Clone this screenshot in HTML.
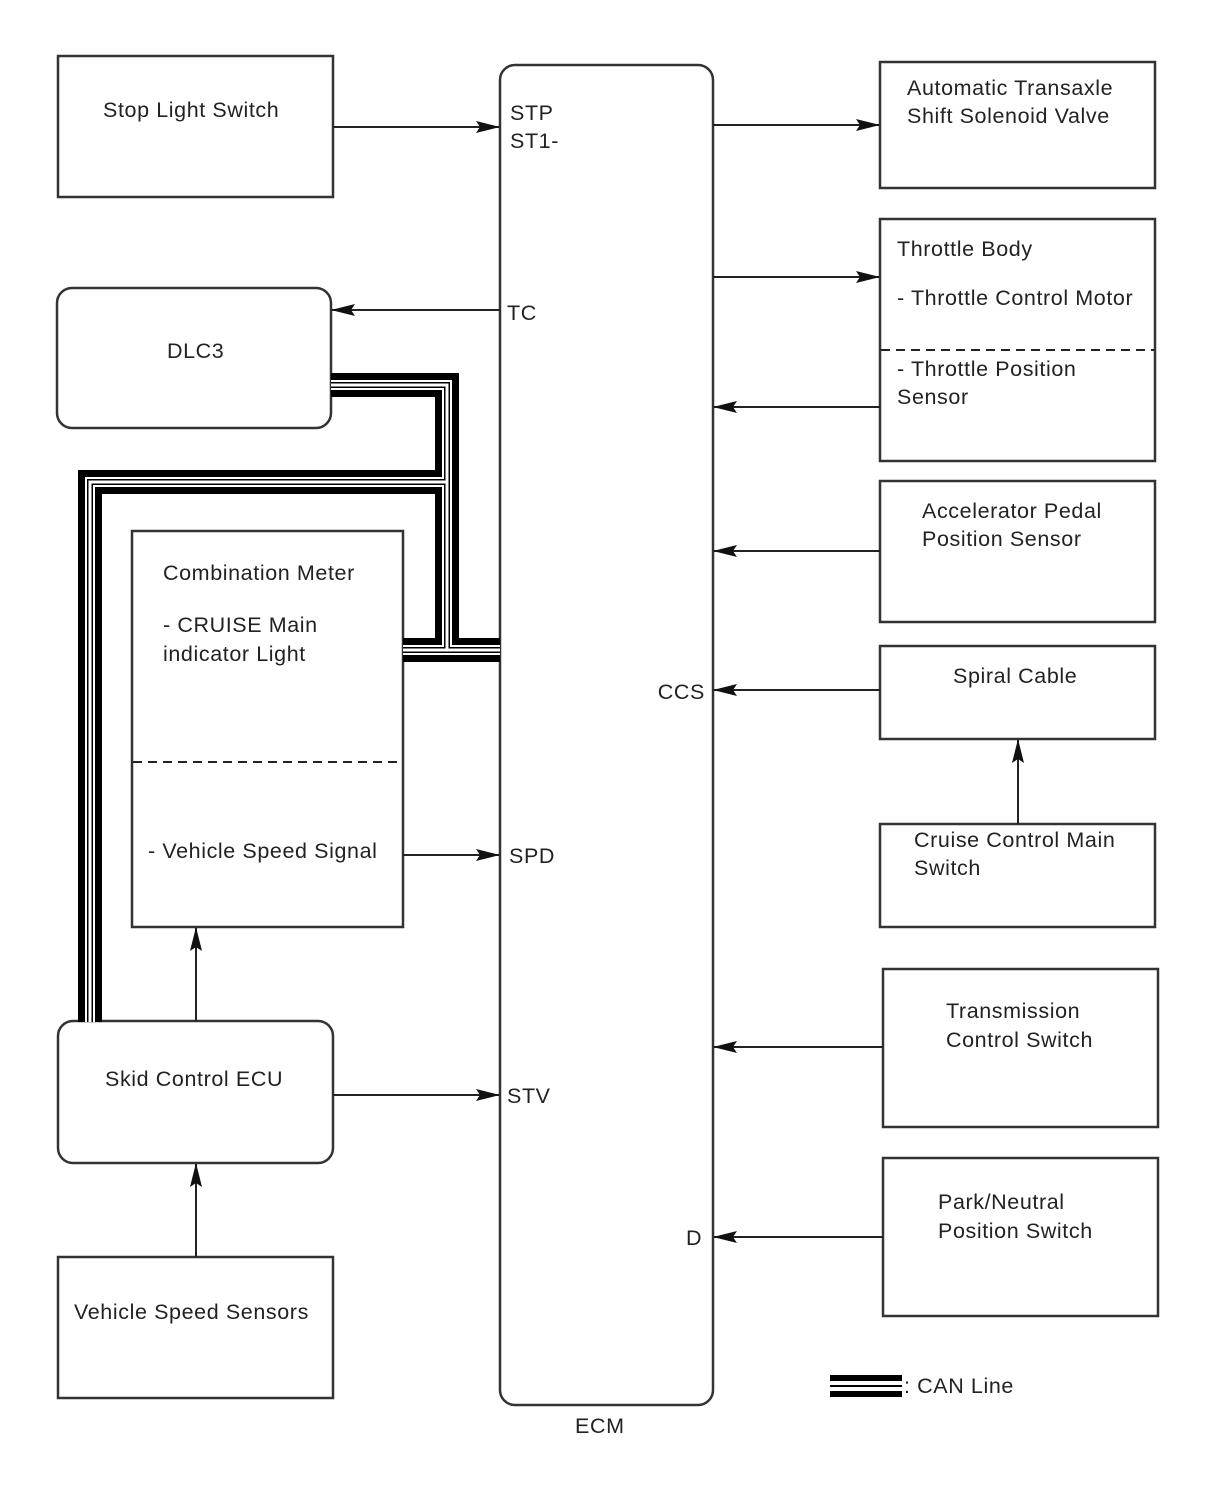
<!DOCTYPE html>
<html><head><style>
html,body{margin:0;padding:0;background:#fff}
svg{display:block}
text{font-family:"Liberation Sans",sans-serif;font-size:21.5px;letter-spacing:0.6px;fill:#222}
</style></head><body>
<svg width="1210" height="1498" viewBox="0 0 1210 1498" xmlns="http://www.w3.org/2000/svg">
<defs>
<marker id="ah" markerWidth="24" markerHeight="12" refX="23" refY="6" orient="auto" markerUnits="userSpaceOnUse">
<path d="M0,0 L24,6 L0,12 L4,6 Z" fill="#111"/>
</marker>
</defs>
<g fill="none" stroke="#333" stroke-width="2.5">
<rect x="58" y="56" width="275" height="141"/>
<rect x="57" y="288" width="274" height="140" rx="15"/>
<rect x="132" y="531" width="271" height="396"/>
<rect x="58" y="1021" width="275" height="142" rx="15"/>
<rect x="58" y="1257" width="275" height="141"/>
<rect x="500" y="65" width="213" height="1340" rx="15"/>
<rect x="880" y="62" width="275" height="126"/>
<rect x="880" y="219" width="275" height="242"/>
<rect x="880" y="481" width="275" height="141"/>
<rect x="880" y="646" width="275" height="93"/>
<rect x="880" y="824" width="275" height="103"/>
<rect x="883" y="969" width="275" height="158"/>
<rect x="883" y="1158" width="275" height="158"/>
</g>
<g stroke="#222" stroke-width="2" stroke-dasharray="9,6">
<line x1="133" y1="762" x2="402" y2="762"/>
<line x1="881" y1="350" x2="1154" y2="350"/>
</g>
<g fill="none" stroke-linejoin="miter" stroke-linecap="butt">
<g stroke="#000" stroke-width="24">
<path d="M331,385 H447 V650 H500"/><path d="M403,650 H500"/><path d="M90,1022 V482 H447"/>
</g>
<g stroke="#fff" stroke-width="10">
<path d="M331,385 H447 V650 H500"/><path d="M403,650 H500"/><path d="M90,1022 V482 H447"/>
</g>
<g stroke="#000" stroke-width="6">
<path d="M331,385 H447 V650 H500"/><path d="M403,650 H500"/><path d="M90,1022 V482 H447"/>
</g>
<g stroke="#fff" stroke-width="3">
<path d="M331,385 H447 V650 H500"/><path d="M403,650 H500"/><path d="M90,1022 V482 H447"/>
</g>
</g>
<rect x="830" y="1375" width="72" height="6" fill="#000"/>
<rect x="830" y="1385" width="72" height="2" fill="#000"/>
<rect x="830" y="1391" width="72" height="6" fill="#000"/>
<g stroke="#222" stroke-width="2" marker-end="url(#ah)">
<line x1="333" y1="127" x2="499" y2="127"/>
<line x1="500" y1="310" x2="332" y2="310"/>
<line x1="713" y1="125" x2="879" y2="125"/>
<line x1="713" y1="277" x2="879" y2="277"/>
<line x1="880" y1="407" x2="714" y2="407"/>
<line x1="880" y1="551" x2="714" y2="551"/>
<line x1="880" y1="690" x2="714" y2="690"/>
<line x1="1018" y1="824" x2="1018" y2="740"/>
<line x1="883" y1="1047" x2="714" y2="1047"/>
<line x1="883" y1="1237" x2="714" y2="1237"/>
<line x1="403" y1="855" x2="499" y2="855"/>
<line x1="333" y1="1095" x2="499" y2="1095"/>
<line x1="196" y1="1021" x2="196" y2="928"/>
<line x1="196" y1="1257" x2="196" y2="1164"/>
</g>
<text x="103" y="117">Stop Light Switch</text>
<text x="167" y="358">DLC3</text>
<text x="163" y="580">Combination Meter</text>
<text x="163" y="632">- CRUISE Main</text>
<text x="163" y="661">indicator Light</text>
<text x="148" y="858">- Vehicle Speed Signal</text>
<text x="105" y="1086">Skid Control ECU</text>
<text x="74" y="1319">Vehicle Speed Sensors</text>
<text x="510" y="120">STP</text>
<text x="510" y="148">ST1-</text>
<text x="507" y="320">TC</text>
<text x="509" y="863">SPD</text>
<text x="507" y="1103">STV</text>
<text x="705" y="699" text-anchor="end">CCS</text>
<text x="686" y="1245">D</text>
<text x="575" y="1433">ECM</text>
<text x="907" y="95">Automatic Transaxle</text>
<text x="907" y="123">Shift Solenoid Valve</text>
<text x="897" y="256">Throttle Body</text>
<text x="897" y="305">- Throttle Control Motor</text>
<text x="897" y="376">- Throttle Position</text>
<text x="897" y="404">Sensor</text>
<text x="922" y="518">Accelerator Pedal</text>
<text x="922" y="546">Position Sensor</text>
<text x="953" y="683">Spiral Cable</text>
<text x="914" y="847">Cruise Control Main</text>
<text x="914" y="875">Switch</text>
<text x="946" y="1018">Transmission</text>
<text x="946" y="1047">Control Switch</text>
<text x="938" y="1209">Park/Neutral</text>
<text x="938" y="1238">Position Switch</text>
<text x="904" y="1393">: CAN Line</text>
</svg>
</body></html>
